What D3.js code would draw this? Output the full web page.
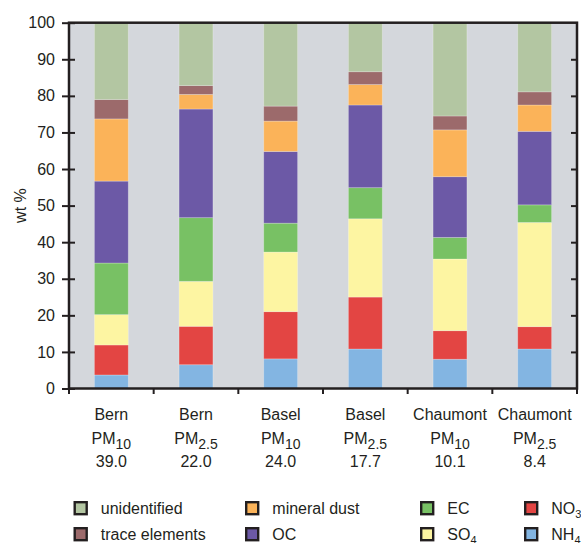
<!DOCTYPE html>
<html>
<head>
<meta charset="utf-8">
<script src="https://cdn.jsdelivr.net/npm/d3@7"></script>
<style>
  html, body { margin: 0; padding: 0; background: #ffffff; }
  svg { display: block; font-family: "Liberation Sans", Arial, Helvetica, sans-serif; }
</style>
</head>
<body>
<svg id="chart" width="581" height="543"></svg>
<script>
// Sampling sites, size fractions and mean mass concentrations
const sites = ["Bern", "Bern", "Basel", "Basel", "Chaumont", "Chaumont"];
const fractions = ["10", "2.5", "10", "2.5", "10", "2.5"];
const massLabels = ["39.0", "22.0", "24.0", "17.7", "10.1", "8.4"];
const categories = sites.map((s, i) => s + " PM" + fractions[i]);

// Chemical composition, wt % per sample (stacked bottom to top)
const nh4 = [3.7, 6.5, 8.1, 10.8, 8.0, 10.8];
const no3 = [8.2, 10.5, 12.9, 14.2, 7.8, 6.1];
const so4 = [8.3, 12.3, 16.3, 21.4, 19.6, 28.5];
const ec = [14.1, 17.4, 7.9, 8.5, 5.9, 4.8];
const oc = [22.4, 29.7, 19.6, 22.6, 16.6, 20.1];
const mineralDust = [17.0, 4.0, 8.3, 5.6, 12.8, 7.2];
const traceElements = [5.3, 2.4, 4.1, 3.5, 3.8, 3.6];
const unidentified = [21.0, 17.2, 22.8, 13.4, 25.5, 18.9];

const yTicks = [0, 10, 20, 30, 40, 50, 60, 70, 80, 90, 100];

const components = [
  { key: "nh4", values: nh4, color: "#83b5e2" },
  { key: "no3", values: no3, color: "#e34543" },
  { key: "so4", values: so4, color: "#fdf5a2" },
  { key: "ec", values: ec, color: "#78c164" },
  { key: "oc", values: oc, color: "#6c59a6" },
  { key: "mineral", values: mineralDust, color: "#fbb359" },
  { key: "trace", values: traceElements, color: "#9c6a6b" },
  { key: "unid", values: unidentified, color: "#b3c6a2" }
];

// Legend entries: label, optional subscript, colour, column, row
const legendItems = [
  { label: "unidentified", sub: "", key: "unid", col: 0, row: 0 },
  { label: "trace elements", sub: "", key: "trace", col: 0, row: 1 },
  { label: "mineral dust", sub: "", key: "mineral", col: 1, row: 0 },
  { label: "OC", sub: "", key: "oc", col: 1, row: 1 },
  { label: "EC", sub: "", key: "ec", col: 2, row: 0 },
  { label: "SO", sub: "4", key: "so4", col: 2, row: 1 },
  { label: "NO", sub: "3", key: "no3", col: 3, row: 0 },
  { label: "NH", sub: "4", key: "nh4", col: 3, row: 1 }
];

const ink = "#231f20";
const svg = d3.select("#chart");

const plotLeft = 69, plotRight = 577, plotTop = 22.7, plotBottom = 388.5;

const x = d3.scaleBand().domain(categories).range([plotLeft, plotRight])
  .paddingInner(0.6).paddingOuter(0.3);
const y = d3.scaleLinear().domain([0, 100]).range([plotBottom, plotTop]);

// plot background
svg.append("rect")
  .attr("x", plotLeft).attr("y", plotTop)
  .attr("width", plotRight - plotLeft).attr("height", plotBottom - plotTop)
  .attr("fill", "#d4d7dc");

// stacked bars
const table = categories.map((c, i) => {
  const row = { category: c };
  components.forEach(k => row[k.key] = k.values[i]);
  return row;
});
const stacked = d3.stack().keys(components.map(k => k.key))(table);
const colorOf = Object.fromEntries(components.map(k => [k.key, k.color]));

svg.append("g").selectAll("g")
  .data(stacked)
  .join("g")
  .attr("fill", d => colorOf[d.key])
  .selectAll("rect")
  .data(d => d)
  .join("rect")
  .attr("x", d => x(d.data.category))
  .attr("width", x.bandwidth())
  .attr("y", d => y(d[1]))
  .attr("height", d => y(d[0]) - y(d[1]))
  .attr("stroke", "rgba(255,255,255,0.3)")
  .attr("stroke-width", 0.8);

// frame
svg.append("rect")
  .attr("x", plotLeft).attr("y", plotTop)
  .attr("width", plotRight - plotLeft).attr("height", plotBottom - plotTop)
  .attr("fill", "none")
  .attr("stroke", ink)
  .attr("stroke-width", 2.5);

// left axis: ticks crossing the axis line
const yAxis = svg.append("g")
  .attr("transform", `translate(${plotLeft},0)`)
  .call(d3.axisLeft(y).tickValues(yTicks).tickSize(7).tickPadding(7));
yAxis.select(".domain").remove();
yAxis.selectAll(".tick line").attr("x1", 6).attr("x2", -7)
  .attr("stroke", ink).attr("stroke-width", 2);
yAxis.selectAll(".tick text")
  .attr("fill", ink)
  .style("font-family", "'Liberation Sans', Arial, sans-serif")
  .style("font-size", "16px");

// right axis: inward ticks, no labels
const yAxisR = svg.append("g")
  .attr("transform", `translate(${plotRight},0)`)
  .call(d3.axisRight(y).tickValues(yTicks.slice(1, -1)).tickSize(-6).tickFormat(""));
yAxisR.select(".domain").remove();
yAxisR.selectAll(".tick line").attr("stroke", ink).attr("stroke-width", 2);

// bottom ticks at category boundaries
const gap = (x.step() - x.bandwidth()) / 2;
const bounds = categories.map(c => x(c) - gap)
  .concat([x(categories[categories.length - 1]) + x.bandwidth() + gap]);
svg.append("g").selectAll("line")
  .data(bounds)
  .join("line")
  .attr("x1", d => d).attr("x2", d => d)
  .attr("y1", plotBottom).attr("y2", plotBottom + 5.5)
  .attr("stroke", ink).attr("stroke-width", 2);

// y axis title
svg.append("text")
  .attr("transform", `translate(25.5,${(plotTop + plotBottom) / 2}) rotate(-90)`)
  .attr("text-anchor", "middle")
  .attr("fill", ink)
  .style("font-size", "16px")
  .text("wt %");

// category labels under each bar: site, size fraction, mass concentration
const labels = svg.append("g").attr("fill", ink).style("font-size", "16px");
categories.forEach((c, i) => {
  const cx = x(c) + x.bandwidth() / 2;
  labels.append("text").attr("x", cx).attr("y", 420)
    .attr("text-anchor", "middle").text(sites[i]);
  const pm = labels.append("text").attr("x", cx).attr("y", 444)
    .attr("text-anchor", "middle");
  pm.append("tspan").text("PM");
  pm.append("tspan").attr("dy", 4.5).style("font-size", "14px").text(fractions[i]);
  labels.append("text").attr("x", cx).attr("y", 466.5)
    .attr("text-anchor", "middle").text(massLabels[i]);
});

// legend
const colX = [73.5, 245, 420, 524];
const rowY = [501, 527];
const legend = svg.append("g").style("font-size", "16px").attr("fill", ink);
legendItems.forEach(it => {
  const lx = colX[it.col], ly = rowY[it.row];
  legend.append("rect")
    .attr("x", lx + 1.2).attr("y", ly + 1.2)
    .attr("width", 12).attr("height", 12)
    .attr("fill", colorOf[it.key])
    .attr("stroke", ink).attr("stroke-width", 2.4);
  const t = legend.append("text").attr("x", lx + 27.3).attr("y", ly + 13);
  t.append("tspan").text(it.label);
  if (it.sub) t.append("tspan").attr("dy", 4).style("font-size", "11px").text(it.sub);
});
</script>
</body>
</html>
